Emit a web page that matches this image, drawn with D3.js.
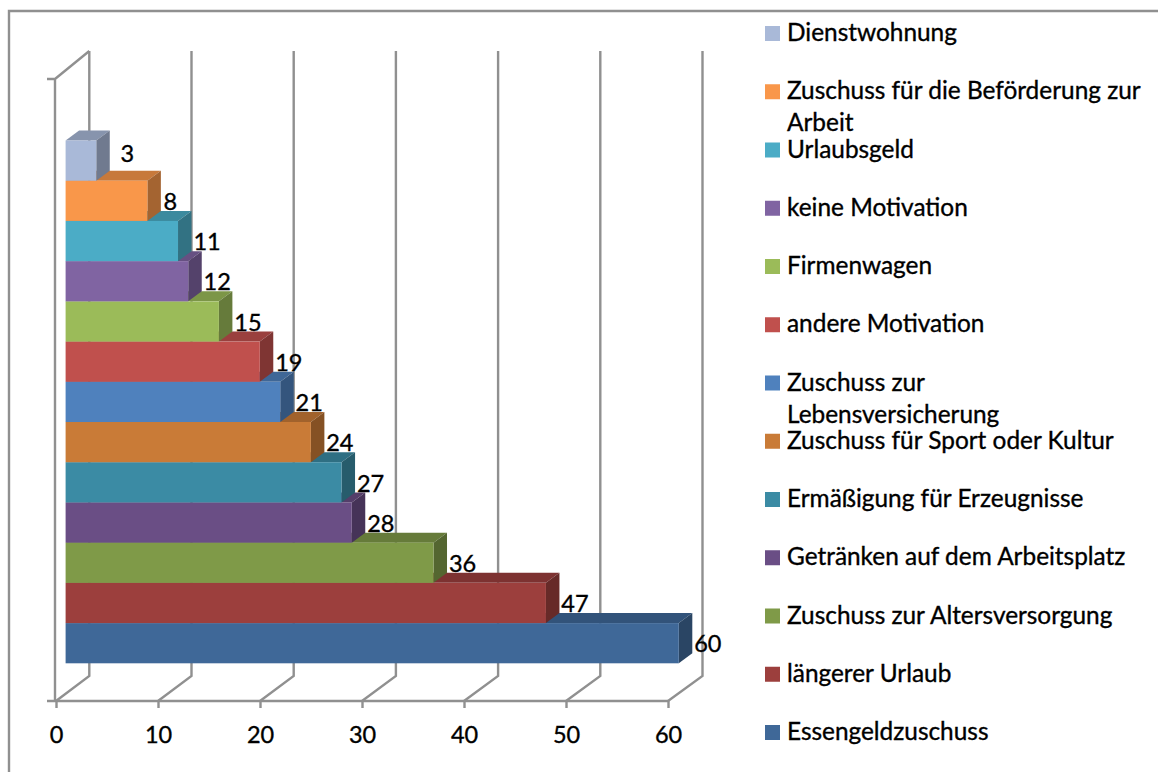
<!DOCTYPE html>
<html>
  <head>
    <title></title>
    <meta charset="UTF-8" />
    <script src="https://cdnjs.cloudflare.com/ajax/libs/d3/7.8.5/d3.min.js"></script>
    <style>
      body { margin: 0; background: #fff; }
      svg { display: block; }
    </style>
  </head>
  <body>
    <svg></svg>
    <script>
      // data, top bar first
      const categories = [
        'Dienstwohnung',
        'Zuschuss für die Beförderung zur\nArbeit',
        'Urlaubsgeld',
        'keine Motivation',
        'Firmenwagen',
        'andere Motivation',
        'Zuschuss zur\nLebensversicherung',
        'Zuschuss für Sport oder Kultur',
        'Ermäßigung für Erzeugnisse',
        'Getränken auf dem Arbeitsplatz',
        'Zuschuss zur Altersversorgung',
        'längerer Urlaub',
        'Essengeldzuschuss',
      ];
      const values = [3, 8, 11, 12, 15, 19, 21, 24, 27, 28, 36, 47, 60];
      const colors = [
        '#a9b9d8', '#f9974a', '#4bacc6', '#8064a2', '#9bbb59', '#c0504d', '#4f81bd',
        '#c97b37', '#3b8ba4', '#6a4e85', '#7f9a48', '#9c3f3d', '#3f6898',
      ];
      const xTicks = [0, 10, 20, 30, 40, 50, 60];

      const width = 1158;
      const height = 772;
      const lineColor = '#909090';
      const lineWidth = 2.4;
      const font = 'Lato, sans-serif';
      const depth = { x: 13.5, y: -10 }; // bar depth

      const svg = d3
        .select('svg')
        .attr('width', width)
        .attr('height', height)
        .style('font-family', font);

      // scales
      const axisY = 701;
      const floorY = 676;
      const topY = 79;
      const wallTopY = 51;
      const x = d3.scaleLinear().domain([0, 60]).range([56, 668]);
      const backX = d3.scaleLinear().domain([0, 60]).range([89.3, 702.5]);
      const barX = d3.scaleLinear().domain([0, 60]).range([65.6, 678.8]);
      const y = d3.scaleBand().domain(categories).range([140.5, 663.3]);

      const shade = (c, k) => {
        const r = d3.rgb(c);
        return d3.rgb(r.r * k, r.g * k, r.b * k).formatHex();
      };

      // frame
      svg
        .append('path')
        .attr('d', `M9,${height}V11H${width}`)
        .attr('fill', 'none')
        .attr('stroke', lineColor)
        .attr('stroke-width', lineWidth);

      // walls and grid
      const grid = svg
        .append('g')
        .attr('fill', 'none')
        .attr('stroke', lineColor)
        .attr('stroke-width', lineWidth);
      grid
        .selectAll('path')
        .data(xTicks)
        .join('path')
        .attr('d', (d) => `M${x(d)},${axisY}L${backX(d)},${floorY}V${wallTopY}`);
      grid
        .append('path')
        .attr(
          'd',
          `M47,${topY}H${x(0) - 1}L${backX(0)},${wallTopY}M${x(0) - 1},${topY}V${axisY}M47,${axisY}H${x(0)}`
        );

      // x axis
      const axis = svg
        .append('g')
        .attr('transform', `translate(0,${axisY})`)
        .call(d3.axisBottom(x).tickValues(xTicks).tickSize(7).tickPadding(18));
      axis.selectAll('path, line').attr('stroke', lineColor).attr('stroke-width', lineWidth);
      axis.select('.domain').attr('d', `M${x(0)},0H${x(60)}`);
      axis
        .selectAll('text')
        .attr('font-family', font)
        .attr('font-size', 23.5)
        .attr('fill', '#000')
        .attr('stroke', '#000')
        .attr('stroke-width', 0.35);

      // bars, drawn from the bottom up so upper bars cover lower tops
      const rows = categories.map((name, i) => ({ name, value: values[i], color: colors[i] })).reverse();
      const bar = svg.append('g').selectAll('g').data(rows).join('g');
      bar
        .append('path') // top
        .attr('fill', (d) => shade(d.color, 0.8))
        .attr('d', (d) => {
          const x0 = barX(0);
          const x1 = barX(d.value);
          const t = y(d.name);
          return `M${x0},${t}L${x0 + depth.x},${t + depth.y}H${x1 + depth.x}L${x1},${t}Z`;
        });
      bar
        .append('path') // side
        .attr('fill', (d) => shade(d.color, 0.66))
        .attr('d', (d) => {
          const x1 = barX(d.value);
          const t = y(d.name);
          const b = t + y.bandwidth();
          return `M${x1},${t}L${x1 + depth.x},${t + depth.y}V${b + depth.y}L${x1},${b}Z`;
        });
      bar
        .append('rect') // front
        .attr('x', barX(0))
        .attr('y', (d) => y(d.name))
        .attr('width', (d) => barX(d.value) - barX(0))
        .attr('height', y.bandwidth())
        .attr('fill', (d) => d.color);

      // value labels
      svg
        .append('g')
        .selectAll('text')
        .data(rows)
        .join('text')
        .attr('x', (d) => barX(d.value) + (d.value === 3 ? 31 : d.value === 8 ? 23 : 29))
        .attr('y', (d) => y(d.name) + y.bandwidth() / 2 + (d.value === 3 ? -7 : 1))
        .attr('dy', '0.35em')
        .attr('text-anchor', 'middle')
        .attr('font-size', 23.5)
        .attr('stroke', '#000')
        .attr('stroke-width', 0.35)
        .text((d) => d.value);

      // legend
      const legendY = d3
        .scalePoint()
        .domain(categories)
        .range([26, 725]);
      const legend = svg
        .append('g')
        .selectAll('g')
        .data(categories)
        .join('g')
        .attr('transform', (d) => `translate(765,${legendY(d)})`);
      legend
        .append('rect')
        .attr('width', 15)
        .attr('height', 15)
        .attr('fill', (d, i) => colors[i]);
      legend
        .append('text')
        .attr('font-size', 24.4)
        .attr('stroke', '#000')
        .attr('stroke-width', 0.35)
        .selectAll('tspan')
        .data((d) => d.split('\n'))
        .join('tspan')
        .attr('x', 22)
        .attr('y', (d, i) => 15 + i * 32)
        .text((d) => d);
    </script>
  </body>
</html>
